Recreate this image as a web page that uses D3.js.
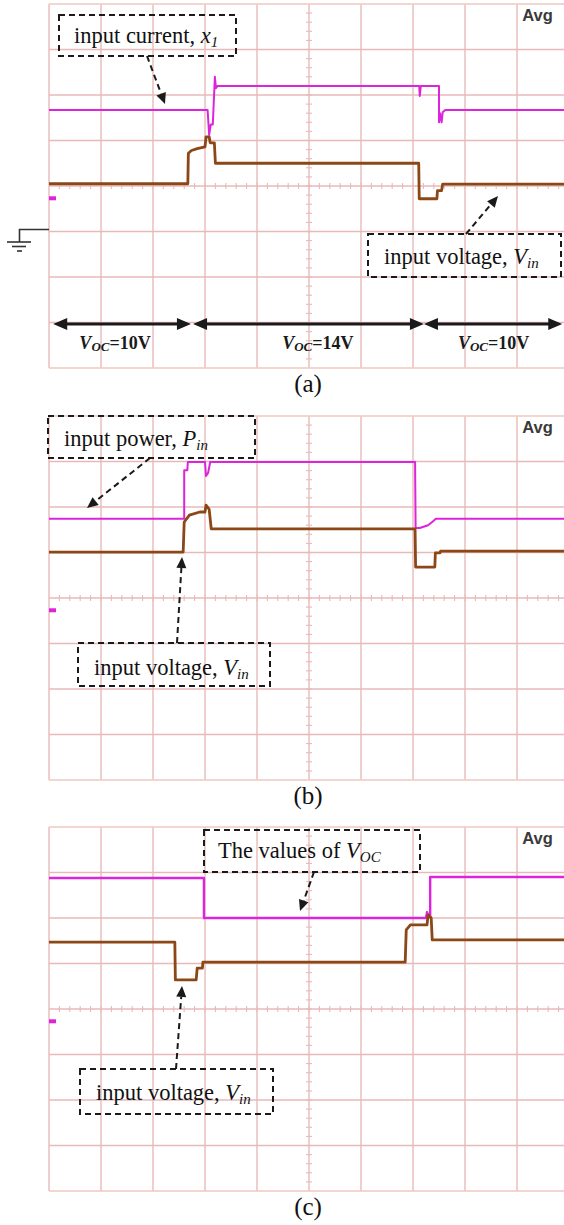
<!DOCTYPE html>
<html><head><meta charset="utf-8">
<script src="https://cdn.jsdelivr.net/npm/d3@7"></script>
<style>body{margin:0;background:#fff}svg{display:block}</style>
</head><body>
<svg id="fig" width="564" height="1225"></svg>
<script>
// Scope screens: 10 x 8 divisions. Trace points are [time div, level div from centre].

// (a) input current x1 and input voltage Vin
const currentA = [[0,1.67],[3.05,1.67],[3.08,1.12],[3.11,1.35],[3.15,1.35],[3.19,2.4],[3.21,2.15],[3.24,2.2],
  [7.12,2.2],[7.13,1.98],[7.15,2.2],[7.5,2.2],[7.5,1.4],[7.52,1.6],[7.55,1.4],[7.57,1.62],[7.62,1.67],[10,1.67]];
const voltageA = [[0,0.05],[2.67,0.05],[2.68,0.72],[2.74,0.78],[2.85,0.82],[3.0,0.86],[3.02,1.08],[3.08,1.08],
  [3.1,0.95],[3.18,0.95],[3.2,0.5],[7.11,0.5],[7.12,-0.28],[7.46,-0.28],[7.47,-0.1],[7.55,-0.1],[7.57,0.04],[10,0.04]];

// (b) input power Pin and input voltage Vin
const powerB = [[0,1.74],[2.6,1.74],[2.6,2.81],[2.66,2.81],[2.67,2.99],[3.0,2.99],[3.02,2.68],[3.06,2.75],[3.1,2.99],
  [7.04,2.99],[7.05,1.54],[7.13,1.54],[7.29,1.6],[7.38,1.68],[7.44,1.74],[10,1.74]];
const voltageB = [[0,1.01],[2.58,1.01],[2.6,1.67],[2.7,1.82],[2.9,1.89],[3.0,1.89],[3.02,2.04],[3.08,1.95],[3.12,1.52],
  [7.04,1.52],[7.05,0.68],[7.42,0.68],[7.43,0.99],[7.52,0.99],[7.53,1.03],[10,1.03]];

// (c) the values of VOC and input voltage Vin
const vocC = [[0,2.88],[2.98,2.88],[2.98,2.0],[7.25,2.0],[7.27,2.13],[7.3,2.02],[7.33,2.02],[7.33,2.9],[10,2.9]];
const voltageC = [[0,1.47],[2.42,1.47],[2.43,0.64],[2.83,0.64],[2.85,0.9],[2.95,0.9],[2.96,1.03],[6.85,1.03],
  [6.87,1.74],[6.95,1.85],[7.27,1.85],[7.29,2.07],[7.35,2.0],[7.37,1.52],[10,1.52]];

// Open-circuit voltage intervals in (a)
const vocSpans = [[0.08, 2.73], [2.77, 7.21], [7.21, 9.87]];
const vocValues = ["10V", "14V", "10V"];
const vocLabelAt = [1.27, 5.17, 8.55];

const captions = ["(a)", "(b)", "(c)"];

const svg = d3.select("#fig");
const LEFT = 49, DIVW = 52, DIVH = 45.5;
const tops = [4, 416, 827];
const GRID = "#e9b9b9";
const MAGENTA = "#dc24dc", BROWN = "#8b4716", INK = "#1a1a1a";
const SERIF = "'Liberation Serif', 'Times New Roman', Times, serif";

const x = d3.scaleLinear().domain([0, 10]).range([LEFT, LEFT + 10 * DIVW]);
const yFor = top => d3.scaleLinear().domain([4, -4]).range([top, top + 8 * DIVH]);

function screen(top) {
  const y = yFor(top);
  const g = svg.append("g");
  g.selectAll("line.v").data(d3.range(0, 11)).join("line")
    .attr("x1", d => x(d)).attr("x2", d => x(d)).attr("y1", y(4)).attr("y2", y(-4))
    .attr("stroke", GRID).attr("stroke-width", 1.4);
  g.selectAll("line.h").data(d3.range(-4, 5)).join("line")
    .attr("y1", d => y(d)).attr("y2", d => y(d)).attr("x1", x(0)).attr("x2", x(10))
    .attr("stroke", d => Math.abs(d) === 4 ? "#f0c8c0" : GRID).attr("stroke-width", 1.4);
  // minor ticks on the centre cross
  g.selectAll("line.tx").data(d3.range(0.2, 10, 0.2)).join("line")
    .attr("x1", d => x(d)).attr("x2", d => x(d)).attr("y1", y(0) - 3).attr("y2", y(0) + 3)
    .attr("stroke", GRID).attr("stroke-width", 1.1);
  g.selectAll("line.ty").data(d3.range(-3.8, 4, 0.2)).join("line")
    .attr("y1", d => y(d)).attr("y2", d => y(d)).attr("x1", x(5) - 3).attr("x2", x(5) + 3)
    .attr("stroke", GRID).attr("stroke-width", 1.1);
  // channel marker
  g.append("rect").attr("x", x(0)).attr("y", y(-0.27) - 2).attr("width", 7).attr("height", 4)
    .attr("fill", MAGENTA);
  g.append("text").attr("x", x(9.1)).attr("y", top + 17)
    .attr("font-family", "'Liberation Sans', Arial, sans-serif").attr("font-weight", "bold")
    .attr("font-size", 16.5).attr("fill", "#3a3a3a").text("Avg");
  return y;
}

function trace(y, data, color, w) {
  svg.append("path").datum(data)
    .attr("d", d3.line().x(d => x(d[0])).y(d => y(d[1])))
    .attr("fill", "none").attr("stroke", color).attr("stroke-width", w)
    .attr("stroke-linejoin", "round");
}

function arrow(x1, y1, x2, y2, opt) {
  const o = Object.assign({w: 2, dash: "6,4", len: 11, half: 5}, opt || {});
  const a = Math.atan2(y2 - y1, x2 - x1);
  const bx = x2 - o.len * Math.cos(a), by = y2 - o.len * Math.sin(a);
  svg.append("line").attr("x1", x1).attr("y1", y1).attr("x2", bx).attr("y2", by)
    .attr("stroke", INK).attr("stroke-width", o.w).attr("stroke-dasharray", o.dash);
  const px = -Math.sin(a) * o.half, py = Math.cos(a) * o.half;
  svg.append("path").attr("d", `M${x2},${y2}L${bx + px},${by + py}L${bx - px},${by - py}Z`).attr("fill", INK);
}

function labelBox(x0, y0, w, h, tx, ty, parts) {
  svg.append("rect").attr("x", x0).attr("y", y0).attr("width", w).attr("height", h)
    .attr("fill", "none").attr("stroke", INK).attr("stroke-width", 2).attr("stroke-dasharray", "6,4");
  const t = svg.append("text").attr("x", tx).attr("y", ty)
    .attr("font-family", SERIF).attr("font-size", 22.5).attr("fill", "#111");
  parts.forEach(([s, k]) => {
    const sp = t.append("tspan").text(s);
    if (k !== "n") sp.attr("font-style", "italic");
    if (k === "s") sp.attr("font-size", 15).attr("dy", 4);
  });
}

const yA = screen(tops[0]), yB = screen(tops[1]), yC = screen(tops[2]);

trace(yA, currentA, MAGENTA, 2);
trace(yA, voltageA, BROWN, 2.8);
trace(yB, powerB, MAGENTA, 2);
trace(yB, voltageB, BROWN, 2.8);
trace(yC, vocC, MAGENTA, 2.4);
trace(yC, voltageC, BROWN, 2.8);

// ground reference symbol of panel (a)
const gnd = svg.append("g").attr("stroke", "#333").attr("stroke-width", 1.6).attr("fill", "none");
gnd.append("path").attr("d", "M49,229.5H19.5V242");
gnd.append("line").attr("x1", 7).attr("x2", 31).attr("y1", 242).attr("y2", 242);
gnd.append("line").attr("x1", 12).attr("x2", 26).attr("y1", 246.5).attr("y2", 246.5);
gnd.append("line").attr("x1", 17).attr("x2", 22).attr("y1", 251).attr("y2", 251);

// Voc intervals
vocSpans.forEach(([a, b], i) => {
  const yy = 324, xa = x(a), xb = x(b);
  svg.append("line").attr("x1", xa + 12).attr("x2", xb - 12).attr("y1", yy).attr("y2", yy)
    .attr("stroke", INK).attr("stroke-width", 3);
  svg.append("path").attr("d", `M${xa},${yy}L${xa + 14},${yy - 6}L${xa + 14},${yy + 6}Z`).attr("fill", INK);
  svg.append("path").attr("d", `M${xb},${yy}L${xb - 14},${yy - 6}L${xb - 14},${yy + 6}Z`).attr("fill", INK);
  const t = svg.append("text").attr("x", x(vocLabelAt[i])).attr("y", 349).attr("text-anchor", "middle")
    .attr("font-family", SERIF).attr("font-weight", "bold")
    .attr("font-size", 18).attr("fill", INK);
  t.append("tspan").attr("font-style", "italic").text("V");
  t.append("tspan").attr("font-style", "italic").attr("font-size", 13).attr("dy", 2).text("OC");
  t.append("tspan").attr("dy", -2).text("=" + vocValues[i]);
});

// annotations
labelBox(59, 15, 177, 41, 74, 43, [["input current, ", "n"], ["x", "i"], ["1", "s"]]);
arrow(147, 56, 165, 104);
labelBox(368, 234, 193, 43, 384, 264, [["input voltage, ", "n"], ["V", "i"], ["in", "s"]]);
arrow(466, 234, 498, 196);

labelBox(48, 416, 207, 42, 64, 446, [["input power, ", "n"], ["P", "i"], ["in", "s"]]);
arrow(150, 458, 87, 508);
labelBox(78, 643, 192, 43, 94, 675, [["input voltage, ", "n"], ["V", "i"], ["in", "s"]]);
arrow(177, 643, 182, 557);

labelBox(204, 830, 216, 42, 218, 858, [["The values of ", "n"], ["V", "i"], ["OC", "s"]]);
arrow(314, 872, 300, 911);
labelBox(80, 1069, 193, 45, 96, 1100, [["input voltage, ", "n"], ["V", "i"], ["in", "s"]]);
arrow(176, 1069, 182, 986);

// captions
[392, 804, 1215].forEach((yy, i) => {
  svg.append("text").attr("x", 308).attr("y", yy).attr("text-anchor", "middle")
    .attr("font-family", SERIF).attr("font-size", 25)
    .attr("fill", "#111").text(captions[i]);
});
</script>
</body></html>
